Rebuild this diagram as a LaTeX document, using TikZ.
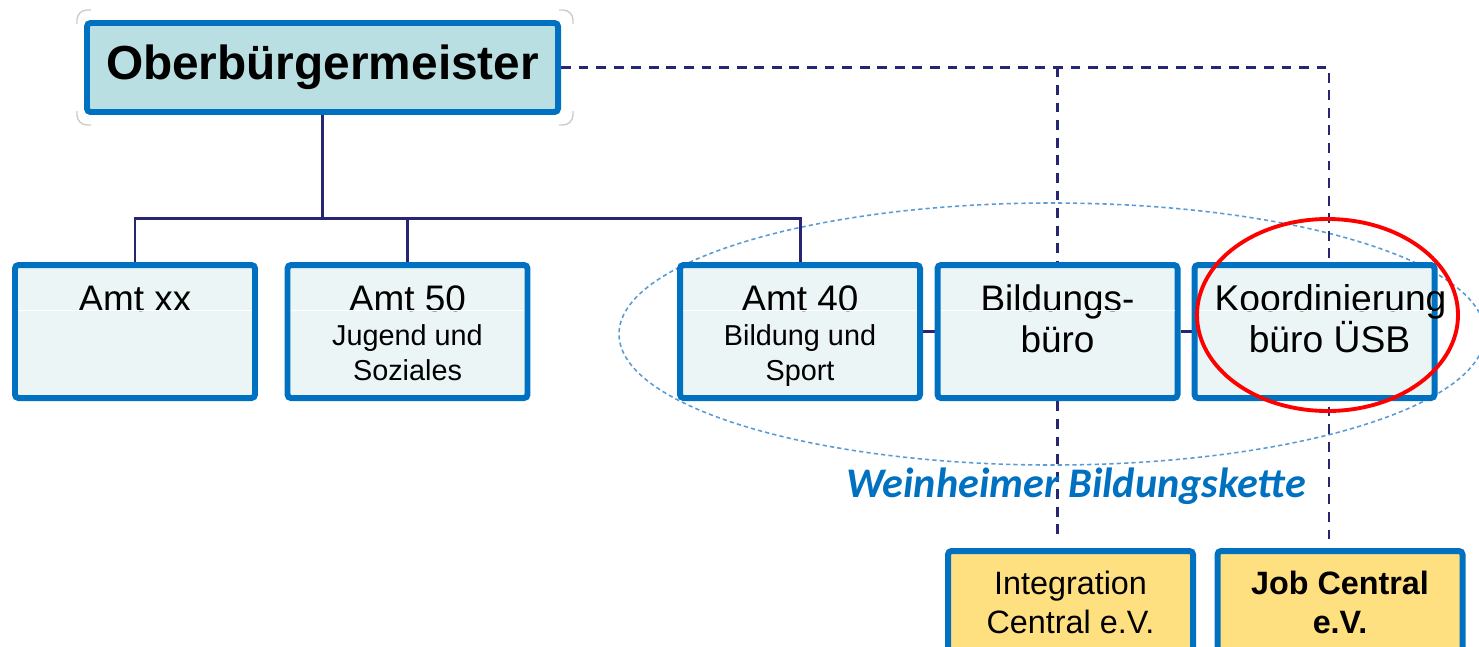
\documentclass[tikz,border=0pt]{standalone}
\usepackage{fontspec}
\setmainfont{Liberation Sans}
\newfontfamily\kettefont{Carlito}
\usetikzlibrary{backgrounds}
\definecolor{amtblue}{HTML}{0070C0}
\definecolor{amtfill}{HTML}{ECF5F6}
\definecolor{obfill}{HTML}{B9DFE3}
\definecolor{vereinfill}{HTML}{FFE080}
\definecolor{navy}{HTML}{262673}
\definecolor{kettering}{HTML}{5B9BD5}

\newcommand{\amttext}[2]{\parbox[c][1.2cm][t]{2.3cm}{\centering
  \fontsize{10.5}{12}\selectfont\rule{0pt}{0.395cm}#1\par
  \fontsize{8.2}{9.9}\selectfont #2\par}}
\newcommand{\buerotext}[2][10.5]{\parbox[c][1.2cm][t]{2.3cm}{\centering
  \fontsize{#1}{11.9}\selectfont\rule{0pt}{0.395cm}#2\par}}
\newcommand{\vereintext}[1]{\parbox[c][1.2cm][t]{2.35cm}{\centering
  \fontsize{9.2}{11.3}\selectfont\rule{0pt}{0.365cm}#1\par}}

\begin{document}
\begin{tikzpicture}[
  amt/.style={draw=amtblue, fill=amtfill, line width=1.7pt, rounded corners=1pt,
    minimum width=2.40cm, minimum height=1.33cm, inner sep=0pt},
  verein/.style={amt, fill=vereinfill, minimum width=2.45cm},
  tree/.style={navy, line width=0.85pt},
  link/.style={navy, line width=0.7pt, dash pattern=on 2.8pt off 2.2pt},
  kette/.style={kettering, line width=0.45pt, dash pattern=on 1.2pt off 0.9pt},
  focus/.style={red, line width=1.1pt},
  cornermark/.style={gray!40, line width=0.4pt, rounded corners=0.1cm}]
\useasboundingbox (0,0) rectangle (14.79,-6.46);
\clip (0,0) rectangle (14.79,-6.46);

\draw[cornermark] (0.77,-0.24) |- (0.91,-0.10);
\draw[cornermark] (5.59,-0.10) -| (5.73,-0.24);
\draw[cornermark] (0.77,-1.11) |- (0.91,-1.25);
\draw[cornermark] (5.59,-1.25) -| (5.73,-1.11);

\node[amt, fill=obfill, minimum width=4.71cm, minimum height=0.89cm,
  font=\fontsize{13.6}{16}\selectfont\bfseries] (ob) at (3.225,-0.675) {Oberbürgermeister};

\node[amt] (xx) at (1.35,-3.315) {\amttext{Amt xx}{}};
\node[amt] (a50) at (4.075,-3.315) {\amttext{Amt 50}{Jugend und\\Soziales}};
\node[amt] (a40) at (8.00,-3.315) {\amttext{Amt 40}{Bildung und\\Sport}};
\node[amt] (bb) at (10.575,-3.315) {\buerotext{Bildungs-\\büro}};
\node[amt] (kb) at (13.145,-3.315)
  {\hspace*{0.15cm}\buerotext[10.6]{Koordinierung\\büro ÜSB}\hspace*{-0.15cm}};

\node[verein] (ic) at (10.705,-6.175) {\vereintext{Integration\\Central e.V.}};
\node[verein] (jc) at (13.40,-6.175) {\vereintext{\textbf{Job Central}\\\textbf{e.V.}}};

\foreach \n in {xx,a50,a40,bb,kb}
  \draw[white, line width=0.3pt] ([xshift=0.06cm,yshift=-0.485cm]\n.north west)
    -- ([xshift=-0.06cm,yshift=-0.485cm]\n.north east);

\coordinate (kk) at (13.29,-0.675);

\begin{pgfonlayer}{background}
\draw[kette] (10.52,-3.34) ellipse [x radius=4.33, y radius=1.31];
\draw[tree] (ob.south) -- (ob.south |- 0,-2.18) coordinate (fork);
\draw[tree] (xx.north) |- (a40 |- fork) -- (a40.north);
\draw[tree] (a50.north) -- (a50 |- fork);
\draw[tree] (a40.east) -- (bb.west);
\draw[tree] (bb.east) -- (kb.west);
\draw[link, shorten >=0.08cm] (ob.east) -| (kk |- jc.north);
\draw[link, shorten >=0.08cm] (bb |- ob.east) -- (bb |- ic.north);
\end{pgfonlayer}

\draw[focus] (13.275,-3.15) ellipse [x radius=1.305, y radius=0.96];

\node[anchor=base, text=amtblue, font=\kettefont\fontsize{12}{14}\selectfont\bfseries\itshape]
  (wbk) at (10.76,-4.97) {Weinheimer Bildungskette};
\end{tikzpicture}
\end{document}
